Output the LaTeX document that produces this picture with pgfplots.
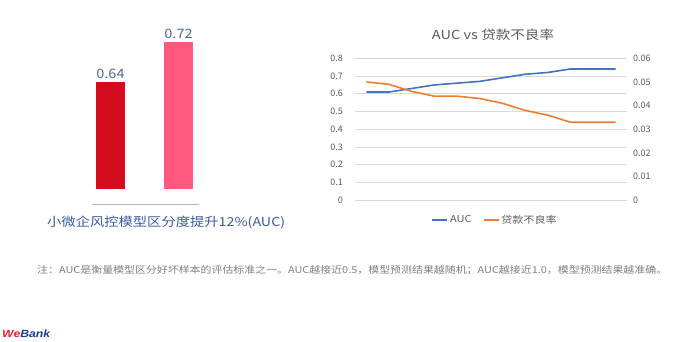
\documentclass[border=0pt]{standalone}
\usepackage{fontspec}
\setmainfont{Noto Sans CJK SC}
\newfontfamily\logofont{Liberation Sans}
\usepackage{pgfplots}
\pgfplotsset{compat=1.18}
\usepackage{graphicx}
\definecolor{bardark}{HTML}{D40B1D}
\definecolor{barpink}{HTML}{FF5A7D}
\definecolor{barlbl}{HTML}{4A6B9E}
\definecolor{capblue}{HTML}{3A5BA0}
\definecolor{capline}{HTML}{A9B6D0}
\definecolor{txtgrey}{HTML}{595959}
\definecolor{notegrey}{HTML}{7F7F7F}
\definecolor{gridgrey}{HTML}{D9D9D9}
\definecolor{aucblue}{HTML}{4472C4}
\definecolor{badorange}{HTML}{ED7D31}
\definecolor{wbred}{HTML}{E5202E}
\definecolor{wbblue}{HTML}{1C3C8C}
\newcommand{\sx}[1]{\scalebox{1.17}[1]{#1}}
\begin{document}
\begin{tikzpicture}[x=1bp,y=1bp]
\useasboundingbox (0,0) rectangle (700,341);
% ---------- bar chart ----------
\begin{axis}[
  at={(92bp,152bp)}, anchor=south west,
  scale only axis, width=107bp, height=187.3bp,
  xmin=-0.272, xmax=1.301, ymin=0.4254, ymax=0.80,
  axis line style={draw=none}, tick style={draw=none},
  xtick=\empty, ytick=\empty,
  ybar, bar width=29bp, bar shift=0pt,
  /pgf/number format/assume math mode=true,
  nodes near coords,
  every node near coord/.append style={font=\fontsize{13}{15}\selectfont, text=barlbl, inner sep=2.5pt},
  nodes near coords={\scalebox{1.12}[1]{\pgfmathprintnumber[fixed,precision=2,assume math mode=true]{\pgfplotspointmeta}}},
]
\addplot[draw=none, fill=bardark] coordinates {(0,0.64)};
\addplot[draw=none, fill=barpink] coordinates {(1,0.72)};
\end{axis}
\draw[capline, line width=1bp] (92,137) -- (199,137);
\node[text=capblue, font=\fontsize{12.4}{14}\selectfont, anchor=west, inner sep=0pt] at (47,118.5) {\resizebox{238bp}{\height}{小微企风控模型区分度提升12\%(AUC)}};
% ---------- line chart ----------
\node[text=txtgrey, font=\fontsize{12.5}{14}\selectfont] at (493,306) {\sx{AUC vs 贷款不良率}};
\begin{axis}[
  at={(355bp,140.7bp)}, anchor=south west,
  scale only axis, width=272bp, height=142bp,
  xmin=0.5, xmax=12.5, ymin=0, ymax=0.8,
  xtick=\empty, ytick={0,0.1,...,0.8},
  ymajorgrids, grid style={gridgrey, line width=0.8bp},
  axis line style={draw=none}, tick style={draw=none},
  /pgf/number format/assume math mode=true,
  yticklabel style={font=\fontsize{9}{10}\selectfont, text=txtgrey, inner sep=0pt, anchor=east, xshift=-12bp},
  yticklabel={\pgfmathprintnumber[fixed,precision=1]{\tick}},
]
\addplot[aucblue, line width=1.6bp] coordinates {
(1,0.61) (2,0.61) (3,0.63) (4,0.65) (5,0.66) (6,0.67) (7,0.69) (8,0.71) (9,0.72) (10,0.74) (11,0.74) (12,0.74)};
\end{axis}
\begin{axis}[
  at={(355bp,140.7bp)}, anchor=south west,
  scale only axis, width=272bp, height=142bp,
  xmin=0.5, xmax=12.5, ymin=0, ymax=0.06,
  xtick=\empty, ytick={0,0.01,0.02,0.03,0.04,0.05,0.06},
  axis y line*=right, axis x line=none,
  axis line style={draw=none}, tick style={draw=none},
  scaled y ticks=false,
  /pgf/number format/assume math mode=true,
  yticklabel style={font=\fontsize{9}{10}\selectfont, text=txtgrey, inner sep=0pt, anchor=west, xshift=6bp},
  yticklabel={\pgfmathprintnumber[fixed,precision=2]{\tick}},
  legend columns=2,
  legend style={at={(0.515,-0.139)}, anchor=center, draw=none, fill=none,
    font=\fontsize{9.5}{11}\selectfont, text=txtgrey, inner sep=0pt,
    /tikz/every even column/.append style={column sep=9bp}},
  legend image code/.code={\draw[#1] (0bp,0bp) -- (15bp,0bp);},
]
\addlegendimage{aucblue, line width=1.6bp}
\addlegendentry{\sx{AUC}}
\addplot[badorange, line width=1.6bp] coordinates {
(1,0.050) (2,0.049) (3,0.046) (4,0.044) (5,0.044) (6,0.043) (7,0.041) (8,0.038) (9,0.036) (10,0.033) (11,0.033) (12,0.033)};
\addlegendentry{\sx{贷款不良率}}
\end{axis}
% ---------- note and logo ----------
\node[text=notegrey, font=\fontsize{9.5}{12}\selectfont, anchor=west, inner sep=0pt] at (37,71) {\resizebox{630bp}{\height}{注：AUC是衡量模型区分好坏样本的评估标准之一。AUC越接近0.5，模型预测结果越随机；AUC越接近1.0，模型预测结果越准确。}};
\node[anchor=west, inner sep=0pt, font=\logofont\fontsize{10.5}{12}\selectfont\bfseries\itshape] at (2,7) {\resizebox{48bp}{\height}{\textcolor{wbred}{We}\textcolor{wbblue}{Bank}}};
\end{tikzpicture}
\end{document}
